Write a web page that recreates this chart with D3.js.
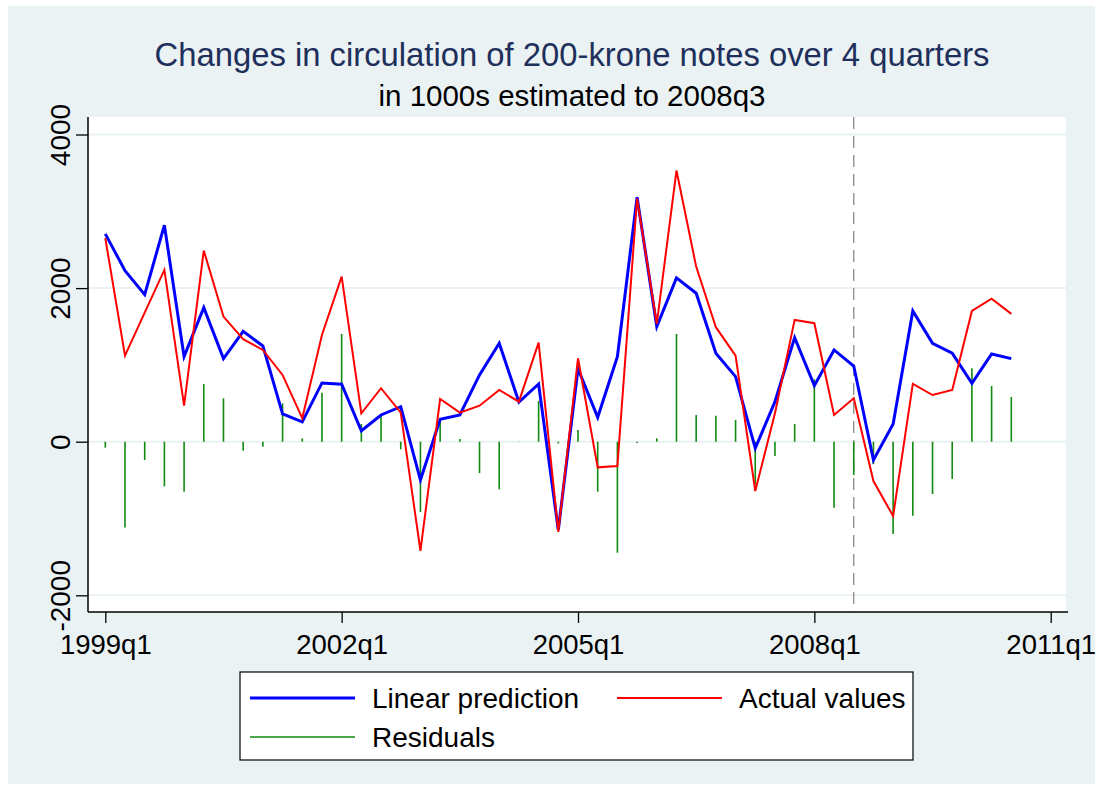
<!DOCTYPE html>
<html>
<head>
<meta charset="utf-8">
<script src="https://cdn.jsdelivr.net/npm/d3@7"></script>
<style>
  body { margin: 0; background: #ffffff; }
  svg text { font-family: "Liberation Sans", Arial, sans-serif; }
</style>
</head>
<body>
<svg id="chart" width="1106" height="791"></svg>
<script>
// quarters 1999q1 .. 2010q3
const quarters = [
  "1999q1","1999q2","1999q3","1999q4","2000q1","2000q2","2000q3","2000q4",
  "2001q1","2001q2","2001q3","2001q4","2002q1","2002q2","2002q3","2002q4",
  "2003q1","2003q2","2003q3","2003q4","2004q1","2004q2","2004q3","2004q4",
  "2005q1","2005q2","2005q3","2005q4","2006q1","2006q2","2006q3","2006q4",
  "2007q1","2007q2","2007q3","2007q4","2008q1","2008q2","2008q3","2008q4",
  "2009q1","2009q2","2009q3","2009q4","2010q1","2010q2","2010q3"
];

const prediction = [
  2706, 2228, 1915, 2820, 1108, 1746, 1082, 1438, 1247, 361, 257, 765,
  748, 143, 348, 456, -499, 292, 348, 869, 1282, 517, 752, -1150,
  950, 318, 1108, 3184, 1499, 2133, 1933, 1152, 847, -86, 521, 1355,
  730, 1195, 986, -238, 231, 1703, 1282, 1152, 761, 1143, 1082
];

const actual = [
  2650, 1121, 1681, 2237, 469, 2489, 1629, 1334, 1195, 869, 305, 1390,
  2150, 370, 696, 378, -1420, 556, 378, 469, 673, 521, 1290, -1173,
  1086, -334, -317, 3166, 1534, 3531, 2280, 1491, 1121, -642, 370, 1586,
  1543, 348, 565, -512, -968, 752, 608, 673, 1703, 1863, 1664
];

const residuals = [
  -78, -1116, -238, -581, -651, 752, 565, -117, -65, 500, 44, 638,
  1403, 230, 335, -99, -916, 283, 35, -408, -620, -5, 530, -22,
  152, -651, -1446, -18, 44, 1403, 348, 339, 283, -556, -186, 230,
  813, -860, -434, -293, -1203, -964, -681, -486, 956, 726, 582
];

const xTickLabels = ["1999q1", "2002q1", "2005q1", "2008q1", "2011q1"];
const yTicks = [-2000, 0, 2000, 4000];
const cutoff = "2008q3";

// "2003q2" -> quarters since 1999q1
function qIndex(s) {
  return (+s.slice(0, 4) - 1999) * 4 + (+s.slice(5) - 1);
}

const svg = d3.select("#chart");
const plot = { left: 88, right: 1066, top: 117, bottom: 612 };

const x = d3.scaleLinear().domain([0, 48]).range([105.3, 1050.7]);
const y = d3.scaleLinear().domain([-2000, 4000]).range([595.3, 134.5]);

// graph region
svg.append("rect").attr("x", 8).attr("y", 6).attr("width", 1087).attr("height", 778)
  .attr("fill", "#eaf2f3");
svg.append("rect").attr("x", plot.left).attr("y", plot.top)
  .attr("width", plot.right - plot.left).attr("height", plot.bottom - plot.top)
  .attr("fill", "#ffffff");

// titles
svg.append("text").attr("x", 572).attr("y", 66).attr("text-anchor", "middle")
  .attr("font-size", 32.8).attr("fill", "#1e2f5c")
  .text("Changes in circulation of 200-krone notes over 4 quarters");
svg.append("text").attr("x", 572).attr("y", 106).attr("text-anchor", "middle")
  .attr("font-size", 29.5).attr("fill", "#000")
  .text("in 1000s estimated to 2008q3");

// gridlines
svg.append("g").selectAll("line").data(yTicks).join("line")
  .attr("x1", plot.left).attr("x2", plot.right)
  .attr("y1", d => y(d)).attr("y2", d => y(d))
  .attr("stroke", "#eaf2f3").attr("stroke-width", 2);

// forecast cutoff line
svg.append("line")
  .attr("x1", x(qIndex(cutoff))).attr("x2", x(qIndex(cutoff)))
  .attr("y1", plot.top).attr("y2", plot.bottom)
  .attr("stroke", "#8c8c8c").attr("stroke-width", 1.3).attr("stroke-dasharray", "12,7");

// residual spikes
svg.append("g").selectAll("line").data(residuals).join("line")
  .attr("x1", (d, i) => x(qIndex(quarters[i]))).attr("x2", (d, i) => x(qIndex(quarters[i])))
  .attr("y1", y(0)).attr("y2", d => y(d))
  .attr("stroke", "#108a10").attr("stroke-width", 1.6);

const line = d3.line().x((d, i) => x(qIndex(quarters[i]))).y(d => y(d));

svg.append("path").datum(prediction).attr("d", line)
  .attr("fill", "none").attr("stroke", "#0000ff").attr("stroke-width", 3)
  .attr("stroke-linejoin", "miter");
svg.append("path").datum(actual).attr("d", line)
  .attr("fill", "none").attr("stroke", "#ff0000").attr("stroke-width", 2)
  .attr("stroke-linejoin", "miter");

// axes
const yAxis = svg.append("g").attr("transform", `translate(${plot.left},0)`)
  .call(d3.axisLeft(y).tickValues(yTicks).tickSize(12).tickFormat(d => String(d)));
yAxis.select(".domain").attr("d", `M0,${plot.top}V${plot.bottom}`)
  .attr("stroke", "#000").attr("stroke-width", 1.5);
yAxis.selectAll(".tick line").attr("stroke", "#000").attr("stroke-width", 1.3);
yAxis.selectAll(".tick text")
  .attr("font-size", 28).attr("fill", "#000")
  .attr("text-anchor", "middle").attr("dy", 0).attr("x", 0).attr("y", 0)
  .attr("transform", "translate(-18,0) rotate(-90)");

const xAxis = svg.append("g").attr("transform", `translate(0,${plot.bottom})`)
  .call(d3.axisBottom(x).tickValues(xTickLabels.map(qIndex)).tickSize(11)
    .tickFormat((d, i) => xTickLabels[i]));
xAxis.select(".domain").attr("d", `M${plot.left},0H1068`)
  .attr("stroke", "#000").attr("stroke-width", 1.5);
xAxis.selectAll(".tick line").attr("stroke", "#000").attr("stroke-width", 1.3);
xAxis.selectAll(".tick text").attr("font-size", 27.5).attr("fill", "#000")
  .attr("dy", 0).attr("y", 42);

// legend
const legend = svg.append("g");
legend.append("rect").attr("x", 240).attr("y", 672).attr("width", 673).attr("height", 88)
  .attr("fill", "#fff").attr("stroke", "#000").attr("stroke-width", 1.2);
const legendItems = [
  { label: "Linear prediction", color: "#0000ff", w: 3, lx: 250, ly: 698 },
  { label: "Actual values", color: "#ff0000", w: 2, lx: 617, ly: 698 },
  { label: "Residuals", color: "#108a10", w: 1.6, lx: 250, ly: 737 }
];
legendItems.forEach(it => {
  legend.append("line").attr("x1", it.lx).attr("x2", it.lx + 105)
    .attr("y1", it.ly).attr("y2", it.ly)
    .attr("stroke", it.color).attr("stroke-width", it.w);
  legend.append("text").attr("x", it.lx + 122).attr("y", it.ly + 10)
    .attr("font-size", 28).attr("fill", "#000").text(it.label);
});
</script>
</body>
</html>
